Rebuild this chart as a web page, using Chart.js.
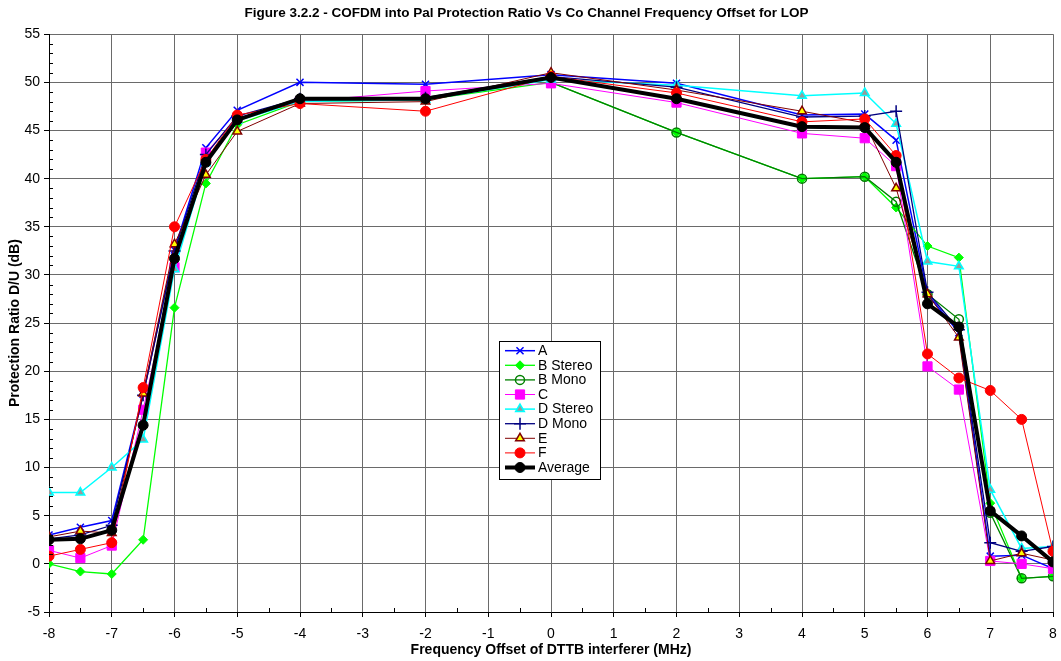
<!DOCTYPE html>
<html>
<head>
<meta charset="utf-8">
<script src="https://cdn.jsdelivr.net/npm/chart.js@4/dist/chart.umd.min.js"></script>
<style>
  html, body { margin: 0; padding: 0; background: #ffffff; }
  #wrap { width: 1061px; height: 661px; position: relative; }
</style>
</head>
<body>
<div id="wrap"><canvas id="c" width="1061" height="661"></canvas></div>
<script>
// Frequency offsets (MHz) at which each receiver was measured
const offsets = [-8, -7.5, -7, -6.5, -6, -5.5, -5, -4, -2, 0, 2, 4, 5, 5.5, 6, 6.5, 7, 7.5, 8];

// Protection ratio D/U (dB) per receiver
const seriesA  = [3.0, 3.8, 4.5, 17.6, 32.6, 43.2, 47.1, 50.0, 49.8, 50.8, 49.9, 46.6, 46.7, 44.0, 28.0, 24.0, 0.8, 0.9, -0.5];
const bStereo  = [0.0, -0.8, -1.05, 2.5, 26.6, 39.5, 45.6, 48.0, 48.2, 50.0, 44.8, 40.0, 40.2, 37.0, 33.0, 31.8, 6.3, -1.5, -1.3];
const bMono    = [null, null, null, null, null, null, null, null, null, 50.0, 44.8, 40.0, 40.2, 37.6, 28.0, 25.4, 5.3, -1.5, -1.3];
const seriesC  = [1.4, 0.6, 1.9, 16.0, 30.8, 42.7, 46.3, 48.0, 49.1, 49.9, 47.9, 44.7, 44.2, 41.3, 20.5, 18.1, 0.3, 0.0, -0.5];
const dStereo  = [7.4, 7.4, 10.0, 12.9, 30.6, 41.6, 46.0, 48.0, 48.2, 50.3, 49.7, 48.6, 48.9, 45.7, 31.4, 30.9, 7.7, 1.6, 1.8];
const dMono    = [2.6, 3.0, 4.0, 17.5, 32.5, 42.5, 46.5, 48.3, 48.4, 50.6, 49.5, 46.4, 46.5, 47.0, 28.2, 24.3, 2.2, 1.3, 1.8];
const seriesE  = [2.8, 3.4, 3.2, 17.7, 33.2, 40.4, 44.9, 47.8, 48.0, 51.0, 49.2, 47.0, 45.8, 39.0, 28.0, 23.5, 0.3, 1.1, 0.4];
const seriesF  = [0.8, 1.5, 2.2, 18.3, 35.0, 42.0, 46.6, 47.8, 47.0, 50.6, 48.9, 45.9, 46.2, 42.4, 21.8, 19.3, 18.0, 15.0, 1.3];
const average  = [2.5, 2.6, 3.5, 14.4, 31.7, 41.7, 46.1, 48.3, 48.3, 50.5, 48.3, 45.4, 45.3, 41.7, 27.0, 24.6, 5.5, 2.9, 0.2];

// Axis ranges and tick steps
const xRange = [-8, 8];
const yRange = [-5, 55];
const xStep = 1;
const yStep = 5;

const FONT = "Arial, 'Liberation Sans', Helvetica, sans-serif";

function pts(values) {
  return offsets.map((x, i) => ({ x: x, y: values[i] }));
}

function series(label, values, style, order) {
  return Object.assign({
    label: label,
    data: pts(values),
    order: order,
    tension: 0,
    spanGaps: false,
    pointHoverRadius: 0
  }, style);
}

const datasets = [
  series('A', seriesA, { borderColor: '#0000ff', borderWidth: 1.5, pointStyle: 'crossRot', pointRadius: 5, pointBorderColor: '#0000ff', pointBackgroundColor: '#0000ff', pointBorderWidth: 1.5 }, 8),
  series('B Stereo', bStereo, { borderColor: '#00ff00', borderWidth: 1.3, pointStyle: 'rectRot', pointRadius: 4.5, pointBorderColor: '#00ff00', pointBackgroundColor: '#00ff00', pointBorderWidth: 1 }, 7),
  series('B Mono', bMono, { borderColor: '#008000', borderWidth: 1.3, pointStyle: 'circle', pointRadius: 4.5, pointBorderColor: '#008000', pointBackgroundColor: 'rgba(255,255,255,0)', pointBorderWidth: 1.5 }, 6),
  series('C', seriesC, { borderColor: '#ff00ff', borderWidth: 1, pointStyle: 'rect', pointRadius: 6.5, pointBorderColor: '#ff00ff', pointBackgroundColor: '#ff00ff', pointBorderWidth: 1 }, 5),
  series('D Stereo', dStereo, { borderColor: '#00ffff', borderWidth: 1.5, pointStyle: 'triangle', pointRadius: 5, pointBorderColor: '#00ffff', pointBackgroundColor: '#999999', pointBorderWidth: 1.5 }, 4),
  series('D Mono', dMono, { borderColor: '#000080', borderWidth: 1.3, pointStyle: 'cross', pointRadius: 6, pointBorderColor: '#000080', pointBackgroundColor: '#000080', pointBorderWidth: 1.5 }, 3),
  series('E', seriesE, { borderColor: '#800000', borderWidth: 1, pointStyle: 'triangle', pointRadius: 5, pointBorderColor: '#800000', pointBackgroundColor: '#ffff00', pointBorderWidth: 1.5 }, 2),
  series('F', seriesF, { borderColor: '#ff0000', borderWidth: 1, pointStyle: 'circle', pointRadius: 5, pointBorderColor: '#ff0000', pointBackgroundColor: '#ff0000', pointBorderWidth: 1 }, 1),
  series('Average', average, { borderColor: '#000000', borderWidth: 4, pointStyle: 'circle', pointRadius: 5, pointBorderColor: '#000000', pointBackgroundColor: '#000000', pointBorderWidth: 1 }, 0)
];

// Small inward minor ticks on both axes
const minorTicks = {
  id: 'minorTicks',
  afterDraw(chart) {
    const { ctx, chartArea, scales } = chart;
    ctx.save();
    ctx.strokeStyle = '#000000';
    ctx.lineWidth = 1;
    ctx.beginPath();
    for (let v = yRange[0]; v <= yRange[1]; v += 1) {
      if (v % yStep === 0) continue;
      const py = Math.round(scales.y.getPixelForValue(v)) + 0.5;
      ctx.moveTo(chartArea.left, py);
      ctx.lineTo(chartArea.left + 4, py);
    }
    for (let v = xRange[0] + 0.5; v < xRange[1]; v += 1) {
      const px = Math.round(scales.x.getPixelForValue(v)) + 0.5;
      ctx.moveTo(px, chartArea.bottom);
      ctx.lineTo(px, chartArea.bottom - 4);
    }
    ctx.stroke();
    ctx.restore();
  }
};

// Boxed legend inside the plot
const boxLegend = {
  id: 'boxLegend',
  afterDraw(chart) {
    const ctx = chart.ctx;
    const left = 499.5, top = 341.5, w = 101, h = 138;
    const rowH = 14.6, firstRow = 350.7;
    ctx.save();
    ctx.fillStyle = '#ffffff';
    ctx.fillRect(left, top, w, h);
    ctx.strokeStyle = '#000000';
    ctx.lineWidth = 1;
    ctx.strokeRect(left, top, w, h);
    ctx.font = '14px ' + FONT;
    ctx.textBaseline = 'middle';
    ctx.textAlign = 'left';
    chart.data.datasets.forEach((ds, i) => {
      const y = firstRow + i * rowH;
      ctx.strokeStyle = ds.borderColor;
      ctx.lineWidth = ds.borderWidth;
      ctx.beginPath();
      ctx.moveTo(505, y);
      ctx.lineTo(535, y);
      ctx.stroke();
      ctx.fillStyle = ds.pointBackgroundColor;
      ctx.strokeStyle = ds.pointBorderColor;
      ctx.lineWidth = ds.pointBorderWidth;
      Chart.helpers.drawPoint(ctx, {
        pointStyle: ds.pointStyle,
        radius: ds.pointRadius,
        rotation: 0,
        borderWidth: ds.pointBorderWidth
      }, 520, y);
      ctx.fillStyle = '#000000';
      ctx.fillText(ds.label, 538, y + 0.5);
    });
    ctx.restore();
  }
};

new Chart(document.getElementById('c'), {
  type: 'line',
  data: { datasets: datasets },
  plugins: [minorTicks, boxLegend],
  options: {
    responsive: false,
    animation: false,
    devicePixelRatio: 1,
    layout: { padding: { left: 0, right: 8, top: 0, bottom: 0 } },
    font: { family: FONT },
    plugins: {
      legend: { display: false },
      tooltip: { enabled: false },
      title: {
        display: true,
        text: 'Figure 3.2.2 - COFDM into Pal Protection Ratio Vs Co Channel Frequency Offset for LOP',
        color: '#000000',
        font: { family: FONT, size: 13.5, weight: 'bold' },
        padding: { top: 5, bottom: 13 }
      }
    },
    scales: {
      x: {
        type: 'linear',
        min: xRange[0],
        max: xRange[1],
        afterFit(scale) { scale.height = 49; scale.paddingLeft = 0; scale.paddingRight = 0; },
        ticks: { stepSize: xStep, color: '#000000', font: { family: FONT, size: 14 }, padding: 9, maxRotation: 0 },
        grid: { color: '#6a6a6a', lineWidth: 1, tickColor: '#000000', tickLength: 5 },
        border: { color: '#000000', width: 1 },
        title: {
          display: true,
          text: 'Frequency Offset of DTTB interferer (MHz)',
          color: '#000000',
          font: { family: FONT, size: 14, weight: 'bold' },
          padding: { top: 0, bottom: 2 }
        }
      },
      y: {
        type: 'linear',
        min: yRange[0],
        max: yRange[1],
        afterFit(scale) { scale.width = 49; },
        ticks: { stepSize: yStep, color: '#000000', font: { family: FONT, size: 14 }, padding: 4 },
        grid: { color: '#6a6a6a', lineWidth: 1, tickColor: '#000000', tickLength: 5 },
        border: { color: '#000000', width: 1 },
        title: {
          display: true,
          text: 'Protection Ratio D/U (dB)',
          color: '#000000',
          font: { family: FONT, size: 14, weight: 'bold' },
          padding: { top: 7, bottom: 0 }
        }
      }
    }
  }
});
</script>
</body>
</html>
